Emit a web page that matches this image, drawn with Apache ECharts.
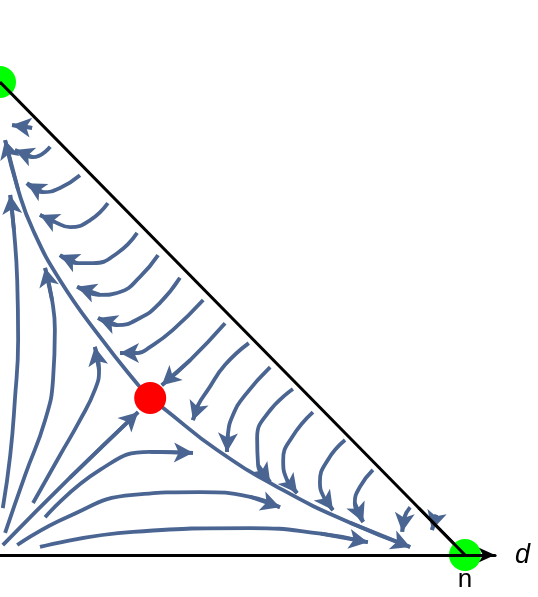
<!DOCTYPE html>
<html>
<head>
<meta charset="utf-8">
<script src="https://cdn.jsdelivr.net/npm/echarts@6/dist/echarts.min.js"></script>
<style>
  html, body { margin: 0; padding: 0; background: #fff; }
  #chart { width: 538px; height: 597px; }
</style>
</head>
<body>
<div id="chart"></div>
<script>
// fixed points
const stableNodes = [[0, 1], [1, 0]]
const saddlePoint = [0.323, 0.332]
const simplexEdge = [[0, 1], [1, 0]]

// separatrices through the saddle
const sepUpper = [[0.323, 0.332], [0.301, 0.355], [0.215, 0.461], [0.129, 0.581], [0.071, 0.687], [0.039, 0.772], [0.011, 0.877]]
const sepLower = [[0.323, 0.332], [0.351, 0.311], [0.467, 0.222], [0.609, 0.137], [0.753, 0.068], [0.882, 0.017]]

// streamlines leaving the origin
const fromOrigin = [
  [[0.006, 0.099], [0.022, 0.211], [0.032, 0.328], [0.039, 0.455], [0.037, 0.581], [0.030, 0.687], [0.022, 0.761]],
  [[0.011, 0.047], [0.054, 0.169], [0.097, 0.285], [0.114, 0.370], [0.118, 0.476], [0.112, 0.539], [0.097, 0.607]],
  [[0.071, 0.110], [0.129, 0.211], [0.172, 0.285], [0.204, 0.349], [0.213, 0.391], [0.204, 0.440]],
  [[0.006, 0.021], [0.150, 0.163], [0.297, 0.302]],
  [[0.097, 0.080], [0.215, 0.180], [0.323, 0.218], [0.415, 0.216]],
  [[0.037, 0.021], [0.144, 0.080], [0.286, 0.127], [0.430, 0.133], [0.538, 0.123], [0.602, 0.101]],
  [[0.086, 0.017], [0.286, 0.049], [0.538, 0.057], [0.690, 0.045], [0.791, 0.027]]
]

// streamlines from the edge bending toward the top vertex
const toTopVertex = [
  [[0.069, 0.903], [0.026, 0.909]],
  [[0.108, 0.863], [0.071, 0.841], [0.032, 0.856]],
  [[0.172, 0.803], [0.129, 0.776], [0.092, 0.767], [0.058, 0.786]],
  [[0.232, 0.744], [0.194, 0.708], [0.151, 0.693], [0.118, 0.704], [0.086, 0.719]],
  [[0.295, 0.681], [0.252, 0.638], [0.200, 0.617], [0.166, 0.617], [0.129, 0.634]],
  [[0.340, 0.634], [0.301, 0.588], [0.258, 0.556], [0.215, 0.550], [0.166, 0.567]],
  [[0.387, 0.586], [0.344, 0.533], [0.301, 0.501], [0.252, 0.486], [0.211, 0.501]],
  [[0.437, 0.539], [0.372, 0.476], [0.323, 0.440], [0.295, 0.427], [0.258, 0.427]],
  [[0.484, 0.490], [0.409, 0.412], [0.348, 0.359]]
]

// streamlines from the edge bending down toward the d axis
const toRightVertex = [
  [[0.535, 0.448], [0.484, 0.402], [0.447, 0.349], [0.426, 0.317], [0.415, 0.285]],
  [[0.581, 0.397], [0.527, 0.338], [0.501, 0.296], [0.490, 0.254], [0.488, 0.218]],
  [[0.630, 0.351], [0.576, 0.300], [0.553, 0.247], [0.555, 0.190], [0.581, 0.154]],
  [[0.673, 0.302], [0.628, 0.249], [0.609, 0.201], [0.617, 0.159], [0.639, 0.131]],
  [[0.742, 0.243], [0.705, 0.201], [0.688, 0.154], [0.697, 0.121], [0.716, 0.095]],
  [[0.802, 0.180], [0.774, 0.144], [0.763, 0.110], [0.781, 0.070]],
  [[0.882, 0.101], [0.869, 0.078], [0.865, 0.049]],
  [[0.938, 0.085], [0.929, 0.053]]
]

const STREAM_COLOR = '#4a6592'

function streamSeries(points) {
  const n = points.length
  return {
    type: 'line',
    data: points,
    smooth: 0.5,
    symbol: 'none',
    silent: true,
    z: 2,
    lineStyle: { color: STREAM_COLOR, width: 3.8 },
    markLine: {
      silent: true,
      animation: false,
      symbol: ['none', 'arrow'],
      symbolSize: [15, 19],
      label: { show: false },
      lineStyle: { color: STREAM_COLOR, width: 3.8, type: 'solid' },
      data: [[{ coord: points[n - 2] }, { coord: points[n - 1] }]]
    }
  }
}

const allStreams = [sepUpper, sepLower, ...fromOrigin, ...toTopVertex, ...toRightVertex]

const chart = echarts.init(document.getElementById('chart'))

chart.setOption({
  animation: false,
  grid: { left: 0, right: 43, top: 82, bottom: 42 },
  xAxis: {
    type: 'value',
    min: 0,
    max: 1.0645,
    z: 10,
    name: 'd',
    nameLocation: 'end',
    nameGap: 20,
    nameTextStyle: { color: '#000', fontSize: 27, fontStyle: 'italic', fontFamily: 'Liberation Sans', verticalAlign: 'middle' },
    axisLine: { show: true, symbol: ['none', 'arrow'], symbolSize: [11, 16], lineStyle: { color: '#000', width: 3.2 } },
    axisTick: { show: false },
    axisLabel: { show: false },
    splitLine: { show: false }
  },
  yAxis: {
    type: 'value',
    min: 0,
    max: 1,
    show: false
  },
  series: [
    ...allStreams.map(streamSeries),
    {
      type: 'scatter',
      z: 5,
      silent: true,
      symbolSize: 32,
      itemStyle: { color: '#00ff00', opacity: 1 },
      data: stableNodes.map((p, i) => ({
        value: p,
        label: {
          show: i === 1,
          formatter: 'n',
          position: 'bottom',
          distance: -4,
          color: '#000',
          fontSize: 26,
          fontFamily: 'Liberation Sans'
        }
      }))
    },
    {
      type: 'scatter',
      z: 5,
      silent: true,
      symbolSize: 32,
      itemStyle: { color: '#ff0000', opacity: 1 },
      data: [saddlePoint]
    },
    {
      type: 'line',
      z: 10,
      silent: true,
      symbol: 'none',
      data: simplexEdge,
      lineStyle: { color: '#000', width: 3 },
      markLine: {
        silent: true,
        symbol: ['none', 'arrow'],
        symbolSize: [7, 9],
        label: { show: false },
        lineStyle: { color: '#000', width: 3, type: 'solid' },
        data: [[{ coord: [0.9, 0.1] }, { coord: simplexEdge[1] }]]
      }
    }
  ]
})
</script>
</body>
</html>
